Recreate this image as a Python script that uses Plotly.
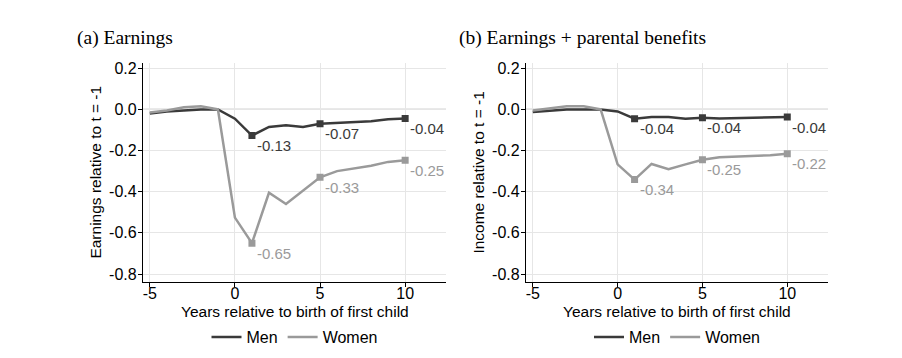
import plotly.graph_objects as go

years = list(range(-5, 11))
men_a = [-0.02, -0.01, -0.005, 0.0, 0.0, -0.045, -0.127, -0.085, -0.077, -0.085, -0.07, -0.065, -0.06, -0.057, -0.048, -0.044]
women_a = [-0.015, -0.005, 0.01, 0.015, 0.0, -0.526, -0.65, -0.405, -0.46, -0.397, -0.33, -0.30, -0.287, -0.274, -0.255, -0.247]
men_b = [-0.013, -0.006, 0.0, 0.0, 0.0, -0.01, -0.045, -0.037, -0.037, -0.045, -0.041, -0.044, -0.043, -0.042, -0.04, -0.037]
women_b = [-0.005, 0.005, 0.015, 0.015, 0.0, -0.267, -0.341, -0.265, -0.29, -0.267, -0.245, -0.232, -0.229, -0.226, -0.223, -0.216]
mark_years = [1, 5, 10]
labels_men_a = ["-0.13", "-0.07", "-0.04"]
labels_women_a = ["-0.65", "-0.33", "-0.25"]
labels_men_b = ["-0.04", "-0.04", "-0.04"]
labels_women_b = ["-0.34", "-0.25", "-0.22"]
ytick_vals = [0.2, 0.0, -0.2, -0.4, -0.6, -0.8]
ytick_text = ["0.2", "0.0", "-0.2", "-0.4", "-0.6", "-0.8"]
xtick_vals = [-5, 0, 5, 10]
xtick_text = ["-5", "0", "5", "10"]
titles = ["(a) Earnings", "(b) Earnings + parental benefits"]
ytitles = ["Earnings relative to t = -1", "Income relative to t = -1"]
xtitle = "Years relative to birth of first child"

MEN_C = "#3a3a3a"
WOMEN_C = "#9a9a9a"
SANS = "Liberation Sans, Arial"

fig = go.Figure()

panels = [((men_a, labels_men_a), (women_a, labels_women_a)),
          ((men_b, labels_men_b), (women_b, labels_women_b))]
xdoms = [(143/902, 446/902), (526/902, 828/902)]
ydom = (1-282/358, 1-61/358)

for i, (men, women) in enumerate(panels):
    xa = "x" if i == 0 else "x2"
    ya = "y" if i == 0 else "y2"
    lg = "legend" if i == 0 else "legend2"
    for name, (vals, labs), col in [("Men", men, MEN_C), ("Women", women, WOMEN_C)]:
        fig.add_trace(go.Scatter(x=years, y=vals, mode="lines", name=name,
                                 line=dict(color=col, width=2.5), xaxis=xa, yaxis=ya,
                                 legend=lg, showlegend=True))
        mx = list(mark_years)
        my = [vals[years.index(y)] for y in mark_years]
        fig.add_trace(go.Scatter(x=mx, y=my, mode="markers",
                                 marker=dict(symbol="square", size=7, color=col),
                                 xaxis=xa, yaxis=ya, showlegend=False, hoverinfo="skip"))
        for xv, yv, lab in zip(mx, my, labs):
            fig.add_annotation(x=xv, y=yv, xref=xa, yref=ya, text=lab,
                               showarrow=False, xanchor="left", yanchor="middle",
                               xshift=3, yshift=-10,
                               font=dict(family=SANS, size=15, color=col))

axis_common = dict(showline=True, linecolor="black", linewidth=1.2, ticks="outside",
                   ticklen=4, tickcolor="black", showgrid=True, gridcolor="#e6e6e6",
                   gridwidth=1, zeroline=False,
                   tickfont=dict(family=SANS, size=16, color="black"))

for i in range(2):
    sfx = "" if i == 0 else "2"
    fig.update_layout(**{
        f"xaxis{sfx}": dict(domain=xdoms[i], range=[-5.4, 12.4], tickvals=xtick_vals,
                            ticktext=xtick_text, anchor=f"y{sfx}", ticklabelstandoff=-7,
                            **axis_common),
        f"yaxis{sfx}": dict(domain=ydom, range=[-0.838, 0.224], tickvals=ytick_vals,
                            ticktext=ytick_text, anchor=f"x{sfx}", ticklabelstandoff=-2,
                            **axis_common),
    })
    xr = "x" if i == 0 else "x2"
    yr = "y" if i == 0 else "y2"
    fig.add_shape(type="line", xref=f"{xr} domain", yref=yr, x0=0, x1=1, y0=0, y1=0,
                  line=dict(color="#a8a8a8", width=1.2), layer="below")
    cx = (xdoms[i][0] + xdoms[i][1]) / 2
    tx = 75/902 if i == 0 else 457/902
    fig.add_annotation(x=tx, y=1-35/358, xref="paper", yref="paper", text=titles[i],
                       showarrow=False, xanchor="left", yanchor="middle",
                       font=dict(family="Liberation Serif, Times New Roman", size=19.5, color="black"))
    fig.add_annotation(x=xdoms[i][0] - (143-96)/902, y=(ydom[0]+ydom[1])/2,
                       xref="paper", yref="paper", text=ytitles[i], textangle=-90,
                       showarrow=False, xanchor="center", yanchor="middle",
                       font=dict(family=SANS, size=15.5, color="black"))
    fig.add_annotation(x=cx, y=1-312/358, xref="paper", yref="paper", text=xtitle,
                       showarrow=False, xanchor="center", yanchor="middle",
                       font=dict(family=SANS, size=15.5, color="black"))

leg_common = dict(orientation="h", xanchor="center", yanchor="middle", y=1-338/358,
                  font=dict(family=SANS, size=16, color="black"),
                  bgcolor="rgba(0,0,0,0)", itemwidth=30, tracegroupgap=0)
fig.update_layout(
    width=902, height=358, margin=dict(l=0, r=0, t=0, b=0),
    paper_bgcolor="white", plot_bgcolor="white",
    legend=dict(x=(xdoms[0][0]+xdoms[0][1])/2, **leg_common),
    legend2=dict(x=(xdoms[1][0]+xdoms[1][1])/2, **leg_common),
)

fig.write_html("out.html", config={"displayModeBar": False},
               post_script="document.body.style.margin='0';")
